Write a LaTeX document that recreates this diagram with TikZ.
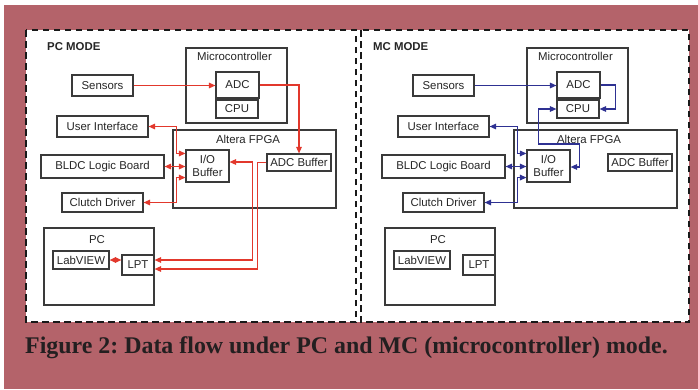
\documentclass[tikz,border=0pt]{standalone}
\usepackage{fontspec}
\setmainfont{Liberation Serif}
\setsansfont{Liberation Sans}
\usetikzlibrary{arrows.meta}
\frenchspacing
\definecolor{maroonbg}{HTML}{B4636A}
\definecolor{flowred}{HTML}{E2382C}
\definecolor{flowblue}{HTML}{2E3192}
\definecolor{boxline}{HTML}{3A3A3A}
\definecolor{captext}{HTML}{231F20}
\newcommand\panelblocks{%
  \node[box, minimum width=101pt, minimum height=75pt] (mc) at (236.5,85.5) {};
  \node[ttl] (mctitle) at (234.5,56) {Microcontroller};
  \node[box, minimum width=43pt, minimum height=26pt] (adc) at (237.5,85) {ADC};
  \node[box, minimum width=42pt, minimum height=18pt] (cpu) at (237,109) {CPU};
  \node[box, minimum width=61pt, minimum height=21pt] (sens) at (102.5,85.5) {Sensors};
  \node[box, minimum width=91pt, minimum height=21pt] (ui) at (102.5,126.5) {User Interface};
  \node[box, minimum width=163pt, minimum height=78pt] (fpga) at (254.5,169) {};
  \node[ttl] (fpgatitle) at (248,139) {Altera FPGA};
  \node[box, minimum width=43pt, minimum height=32pt] (io) at (207.5,166) {I/O\\Buffer};
  \node[box, minimum width=64pt, minimum height=17pt] (adcb) at (299,162.5) {ADC Buffer};
  \node[box, minimum width=123pt, minimum height=23pt] (bldc) at (102.5,166.5) {BLDC Logic Board};
  \node[box, minimum width=81pt, minimum height=19pt] (clutch) at (102.5,202.5) {Clutch Driver};
  \node[box, minimum width=110pt, minimum height=77pt] (pc) at (99,266.5) {};
  \node[ttl] (pctitle) at (97,240) {PC};
  \node[box, minimum width=56pt, minimum height=18pt] (lab) at (81,260) {LabVIEW};
  \node[box, minimum width=32pt, minimum height=20pt] (lpt) at (138,265) {LPT};
}
\begin{document}
\begin{tikzpicture}[x=1pt,y=-1pt,
  >={Triangle[length=6.5pt,width=5.5pt]},
  box/.style={draw=boxline, line width=1.1pt, inner sep=0pt,
    font=\sffamily\fontsize{11.4}{13}\selectfont, align=center, text=black!85},
  ttl/.style={inner sep=0pt, font=\sffamily\fontsize{11.4}{13}\selectfont, text=black!85},
  modettl/.style={inner sep=0pt, anchor=west,
    font=\sffamily\bfseries\fontsize{11.4}{13}\selectfont, text=black!85},
  flowL/.style={draw=flowred, line width=1.3pt},
  flowR/.style={draw=flowblue, line width=1.3pt},
  panel/.style={draw=black!90, line width=2pt, dash pattern=on 6.5pt off 4.5pt}]
\useasboundingbox (0,0) rectangle (698,389);
\fill[white] (0,0) rectangle (698,389);
\fill[maroonbg] (4,5) rectangle (698,389);
\fill[white] (26,30) rectangle (689,322);
\draw[panel] (26,30) rectangle (356,322);
\draw[panel] (361,30) rectangle (689,322);

\node[modettl] (pcmode) at (47,47) {PC MODE};
\node[modettl] (mcmode) at (373,47) {MC MODE};

\begin{scope}[name prefix=L-]
  \panelblocks
  \draw[flowL,->] (sens.east) -- (sens.east -| adc.west);
  \draw[flowL,->] (adc.east) -| (adcb.north);
  \draw[flowL,<->] (ui.east) -| ([xshift=-9pt,yshift=-4pt]io.north west) -- ([yshift=-4pt]io.north west);
  \draw[flowL,<->] (bldc.east) -- (bldc.east -| io.west);
  \draw[flowL,<->] (clutch.east) -| ([xshift=-9pt,yshift=5pt]io.south west) -- ([yshift=5pt]io.south west);
  \draw[flowL,<->] ([yshift=4pt]io.east) -- ++(23,0) |- ([yshift=5pt]lpt.east);
  \draw[flowL,->] (adcb.west) -- ++(-9,0) |- ([yshift=-4pt]lpt.east);
  \draw[flowL,<->] (lab.east) -- (lab.east -| lpt.west);
\end{scope}

\begin{scope}[xshift=341pt, name prefix=R-]
  \panelblocks
  \draw[flowR,->] (sens.east) -- (sens.east -| adc.west);
  \draw[flowR,->] (adc.east) -- ++(15,0) |- (cpu.east);
  \draw[flowR,<->] (cpu.west) -- ++(-18,0) -- ++(0,35) -- ++(41,0) |- ([yshift=-1pt]io.east);
  \draw[flowR,<->] (ui.east) -| ([xshift=-9pt,yshift=-4pt]io.north west) -- ([yshift=-4pt]io.north west);
  \draw[flowR,<->] (bldc.east) -- (bldc.east -| io.west);
  \draw[flowR,<->] (clutch.east) -| ([xshift=-9pt,yshift=5pt]io.south west) -- ([yshift=5pt]io.south west);
\end{scope}

\node[anchor=base west, inner sep=0pt, text=captext,
  font=\bfseries\fontsize{23.9}{26}\selectfont] (caption) at (25,353)
  {Figure 2: Data flow under PC and MC (microcontroller) mode.};
\end{tikzpicture}
\end{document}
